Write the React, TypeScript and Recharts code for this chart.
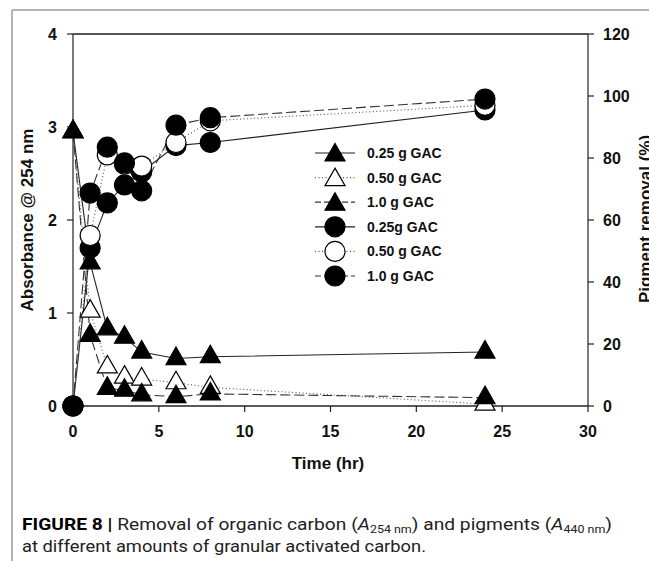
import React from 'react';
import {
  ComposedChart,
  Line,
  XAxis,
  YAxis,
  ReferenceLine,
  Legend,
} from 'recharts';

// ---------- data ----------
const times = [0, 1, 2, 3, 4, 6, 8, 24];

// Absorbance @ 254 nm (left axis) - triangles
const abs025 = [2.95, 1.54, 0.83, 0.74, 0.58, 0.51, 0.53, 0.58];
const abs050 = [2.95, 1.02, 0.42, 0.31, 0.29, 0.25, 0.2, 0.02];
const abs100 = [2.95, 0.76, 0.19, 0.17, 0.12, 0.1, 0.13, 0.09];

// Pigment removal (%) (right axis) - circles
const pig025 = [0, 51, 65.5, 71.3, 75.5, 84, 85, 95.5];
const pig050 = [0, 55, 81, 78, 77.4, 85, 92, 97];
const pig100 = [0, 68.7, 83.5, 78.4, 69.4, 90.6, 93, 99];

const xTicks = [0, 5, 10, 15, 20, 25, 30];
const leftTicks = [0, 1, 2, 3, 4];
const rightTicks = [0, 20, 40, 60, 80, 100, 120];

const legendLabels = [
  '0.25 g GAC',
  '0.50 g GAC',
  '1.0 g GAC',
  '0.25g GAC',
  '0.50 g GAC',
  '1.0 g GAC',
];

const data = times.map((t, i) => ({
  t,
  a025: abs025[i],
  a050: abs050[i],
  a100: abs100[i],
  p025: pig025[i],
  p050: pig050[i],
  p100: pig100[i],
}));

// ---------- styles ----------
const FONT = '"Liberation Sans", Arial, Helvetica, sans-serif';
const tickStyle = { fill: '#111', fontSize: 16, fontWeight: 'bold', fontFamily: FONT };

type Series = {
  key: string;
  axis: 'left' | 'right';
  shape: 'tri' | 'circ';
  fill: string;
  dash?: string;
  stroke: string;
};

const series: Series[] = [
  { key: 'a025', axis: 'left', shape: 'tri', fill: '#000', stroke: '#222' },
  { key: 'a050', axis: 'left', shape: 'tri', fill: '#fff', dash: '1 2.5', stroke: '#555' },
  { key: 'a100', axis: 'left', shape: 'tri', fill: '#000', dash: '10 4', stroke: '#333' },
  { key: 'p025', axis: 'right', shape: 'circ', fill: '#000', stroke: '#222' },
  { key: 'p050', axis: 'right', shape: 'circ', fill: '#fff', dash: '1 2.5', stroke: '#555' },
  { key: 'p100', axis: 'right', shape: 'circ', fill: '#000', dash: '10 4', stroke: '#333' },
];

const triPath = (cx: number, cy: number) =>
  `M${cx},${cy - 11.5} L${cx + 10},${cy + 6} L${cx - 10},${cy + 6} Z`;

const makeDot = (shape: 'tri' | 'circ', fill: string, key: string) => (props: any) => {
  const { cx, cy, index } = props;
  if (cx == null || cy == null) return <g key={`${key}-${index}`} />;
  if (shape === 'tri') {
    return (
      <path
        key={`${key}-${index}`}
        d={triPath(cx, cy)}
        fill={fill}
        stroke="#000"
        strokeWidth={1.2}
        strokeLinejoin="miter"
      />
    );
  }
  return (
    <circle key={`${key}-${index}`} cx={cx} cy={cy} r={10} fill={fill} stroke="#000" strokeWidth={1.2} />
  );
};

const renderLegend = () => {
  const rowH = 24.6;
  return (
    <svg width={170} height={150} style={{ display: 'block', overflow: 'visible' }}>
      {series.map((s, i) => {
        const y = 12 + i * rowH;
        const cx = 25;
        return (
          <g key={s.key}>
            <line
              x1={5}
              x2={45}
              y1={y}
              y2={y}
              stroke={s.stroke}
              strokeWidth={1.2}
              strokeDasharray={s.dash === '10 4' ? '6 3' : s.dash}
            />
            {s.shape === 'tri' ? (
              <path d={triPath(cx, y + 2)} fill={s.fill} stroke="#000" strokeWidth={1.2} />
            ) : (
              <circle cx={cx} cy={y} r={10} fill={s.fill} stroke="#000" strokeWidth={1.2} />
            )}
            <text
              x={57}
              y={y}
              dominantBaseline="central"
              fontFamily={FONT}
              fontWeight="bold"
              fontSize={14}
              fill="#111"
            >
              {legendLabels[i]}
            </text>
          </g>
        );
      })}
    </svg>
  );
};

export default function App() {
  return (
    <div style={{ position: 'absolute', left: 0, top: 0, width: 649, height: 561, background: '#fff' }}>
      <ComposedChart
        width={649}
        height={561}
        data={data}
        margin={{ top: 34, right: 0, bottom: 0, left: 0 }}
      >
        <XAxis
          dataKey="t"
          type="number"
          domain={[0, 30]}
          ticks={xTicks}
          height={155}
          tickSize={6}
          tickMargin={14}
          tick={tickStyle}
          axisLine={{ stroke: '#222', strokeWidth: 1.3 }}
          tickLine={{ stroke: '#222', strokeWidth: 1.2 }}
          interval={0}
        />
        <YAxis
          yAxisId="left"
          orientation="left"
          type="number"
          domain={[0, 4]}
          ticks={leftTicks}
          width={73}
          tickSize={6}
          tickMargin={10}
          tick={tickStyle}
          axisLine={{ stroke: '#222', strokeWidth: 1.2 }}
          tickLine={{ stroke: '#222', strokeWidth: 1.2 }}
          interval={0}
        />
        <YAxis
          yAxisId="right"
          orientation="right"
          type="number"
          domain={[0, 120]}
          ticks={rightTicks}
          width={61}
          tickSize={6}
          tickMargin={9}
          tick={tickStyle}
          axisLine={{ stroke: '#222', strokeWidth: 1.2 }}
          tickLine={{ stroke: '#222', strokeWidth: 1.2 }}
          interval={0}
        />
        <ReferenceLine yAxisId="left" y={4} stroke="#555" strokeWidth={2} />
        <Legend
          layout="vertical"
          align="center"
          verticalAlign="middle"
          content={renderLegend}
          wrapperStyle={{ position: 'absolute', left: 310, top: 141, width: 170, height: 150 }}
        />
        {series.map((s) => (
          <Line
            key={s.key}
            yAxisId={s.axis}
            dataKey={s.key}
            type="linear"
            stroke={s.stroke}
            strokeWidth={1.1}
            strokeDasharray={s.dash}
            dot={makeDot(s.shape, s.fill, s.key)}
            activeDot={false}
            isAnimationActive={false}
            legendType="none"
          />
        ))}
      </ComposedChart>
      <svg
        width={649}
        height={561}
        style={{ position: 'absolute', left: 0, top: 0, pointerEvents: 'none' }}
      >
        <line x1={12} y1={10} x2={12} y2={561} stroke="#9a9a9a" strokeWidth={1.5} />
        <line x1={12} y1={10} x2={649} y2={10} stroke="#9a9a9a" strokeWidth={1.5} />
        <text
          transform="translate(27,220) rotate(-90)"
          textAnchor="middle"
          dominantBaseline="central"
          fontFamily={FONT}
          fontWeight="bold"
          fontSize={17}
          fill="#111"
        >
          Absorbance @ 254 nm
        </text>
        <text
          transform="translate(645,219) rotate(-90)"
          textAnchor="middle"
          dominantBaseline="central"
          fontFamily={FONT}
          fontWeight="bold"
          fontSize={17}
          fill="#111"
        >
          Pigment removal (%)
        </text>
        <text
          x={328}
          y={469}
          textAnchor="middle"
          fontFamily={FONT}
          fontWeight="bold"
          fontSize={17}
          fill="#111"
        >
          Time (hr)
        </text>
        <text
          x={22}
          y={530}
          fontFamily="Roboto, 'Liberation Sans', sans-serif"
          fontSize={17}
          fill="#222"
          textLength={590}
          lengthAdjust="spacingAndGlyphs"
        >
          <tspan fontWeight="bold" fill="#000">FIGURE 8 | </tspan>
          <tspan>Removal of organic carbon (</tspan>
          <tspan fontStyle="italic">A</tspan>
          <tspan fontSize={11} dy={3}>254 nm</tspan>
          <tspan dy={-3}>) and pigments (</tspan>
          <tspan fontStyle="italic">A</tspan>
          <tspan fontSize={11} dy={3}>440 nm</tspan>
          <tspan dy={-3}>)</tspan>
        </text>
        <text
          x={22}
          y={552}
          fontFamily="Roboto, 'Liberation Sans', sans-serif"
          fontSize={17}
          fill="#222"
          textLength={404}
          lengthAdjust="spacingAndGlyphs"
        >
          at different amounts of granular activated carbon.
        </text>
      </svg>
    </div>
  );
}
